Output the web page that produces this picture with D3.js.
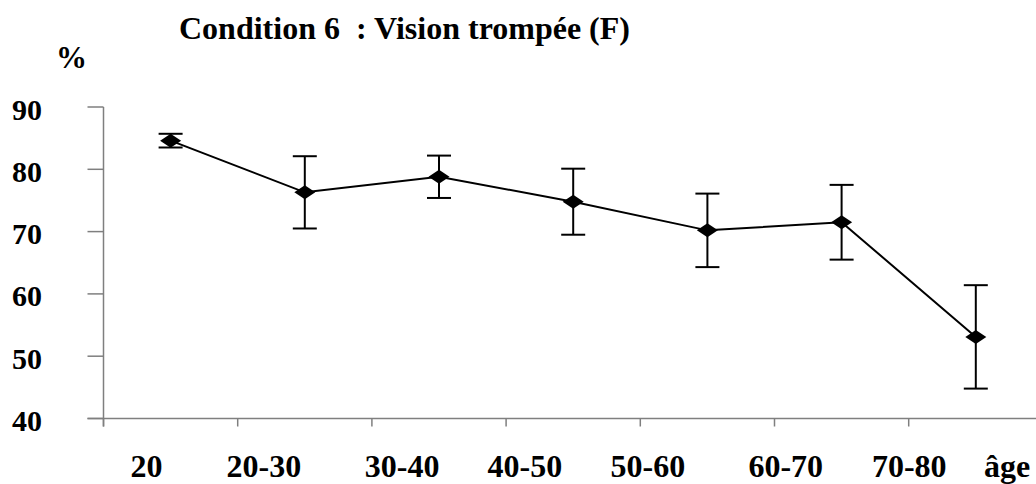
<!DOCTYPE html>
<html>
<head>
<meta charset="utf-8">
<style>
  html, body { margin: 0; padding: 0; background: #fff; }
  svg text { font-family: "Liberation Serif", "Times New Roman", serif; font-weight: bold; fill: #000; }
</style>
</head>
<body>
<div id="chart"></div>
<script src="https://cdn.jsdelivr.net/npm/d3@7"></script>
<script>
  // groupes d'âge et moyennes (%) avec écart (barres d'erreur)
  const categories = ["20", "20-30", "30-40", "40-50", "50-60", "60-70", "70-80"];
  const means = [84.6, 76.3, 78.8, 74.8, 70.2, 71.5, 53.1];
  const errors = [1.1, 5.8, 3.4, 5.3, 5.9, 6.0, 8.3];
  const yTicks = [40, 50, 60, 70, 80, 90];
  // labels under the axis, positioned in category units as in the original
  const xLabels = ["20", "20-30", "30-40", "40-50", "50-60", "60-70", "70-80", "âge"];
  const xLabelAt = [0.32, 1.195, 2.225, 3.14, 4.057, 5.084, 6.004, 6.733];

  const width = 1036;
  const height = 484;

  const svg = d3
    .select("#chart")
    .append("svg")
    .attr("width", width)
    .attr("height", height);

  const x = d3.scaleLinear().domain([0, categories.length]).range([103.5, 103.5 + 7 * 134.2]);
  const y = d3.scaleLinear().domain([40, 90]).range([418.5, 107]);

  const axisColor = "#7f7f7f";

  // axe des y
  svg
    .append("line")
    .attr("x1", x(0)).attr("x2", x(0))
    .attr("y1", y(90)).attr("y2", y(40) + 8)
    .attr("stroke", axisColor)
    .attr("stroke-width", 1.5);

  svg
    .append("g")
    .selectAll("line")
    .data(yTicks)
    .enter()
    .append("line")
    .attr("x1", x(0) - 16).attr("x2", x(0))
    .attr("y1", (d) => y(d)).attr("y2", (d) => y(d))
    .attr("stroke", axisColor)
    .attr("stroke-width", 1.5);

  svg
    .append("g")
    .selectAll("text")
    .data(yTicks)
    .enter()
    .append("text")
    .attr("x", 42)
    .attr("y", (d) => y(d) + 12.5)
    .attr("text-anchor", "end")
    .style("font-size", "30px")
    .text((d) => d);

  // axe des x
  svg
    .append("line")
    .attr("x1", x(0) - 16).attr("x2", width)
    .attr("y1", y(40)).attr("y2", y(40))
    .attr("stroke", axisColor)
    .attr("stroke-width", 1.5);

  svg
    .append("g")
    .selectAll("line")
    .data(d3.range(categories.length))
    .enter()
    .append("line")
    .attr("x1", (d) => x(d)).attr("x2", (d) => x(d))
    .attr("y1", y(40)).attr("y2", y(40) + 8)
    .attr("stroke", axisColor)
    .attr("stroke-width", 1.5);

  svg
    .append("g")
    .selectAll("text")
    .data(xLabels)
    .enter()
    .append("text")
    .attr("x", (d, i) => x(xLabelAt[i]))
    .attr("y", 477)
    .attr("text-anchor", "middle")
    .style("font-size", "32px")
    .text((d) => d);

  // titre et unité
  svg
    .append("text")
    .attr("x", 179)
    .attr("y", 39)
    .style("font-size", "32px")
    .style("white-space", "pre")
    .text("Condition 6  : Vision trompée (F)");

  svg
    .append("text")
    .attr("x", 56)
    .attr("y", 68)
    .style("font-size", "31px")
    .text("%");

  const cx = (i) => x(i + 0.5);

  // courbe
  const line = d3
    .line()
    .x((d, i) => cx(i))
    .y((d) => y(d));

  svg
    .append("path")
    .datum(means)
    .attr("d", line)
    .attr("fill", "none")
    .attr("stroke", "#000")
    .attr("stroke-width", 2);

  // barres d'erreur
  const bars = svg
    .append("g")
    .selectAll("g")
    .data(means)
    .enter()
    .append("g")
    .attr("stroke", "#000")
    .attr("stroke-width", 2);

  bars
    .append("line")
    .attr("x1", (d, i) => cx(i)).attr("x2", (d, i) => cx(i))
    .attr("y1", (d, i) => y(d + errors[i]))
    .attr("y2", (d, i) => y(d - errors[i]));

  bars
    .append("line")
    .attr("x1", (d, i) => cx(i) - 12).attr("x2", (d, i) => cx(i) + 12)
    .attr("y1", (d, i) => y(d + errors[i]))
    .attr("y2", (d, i) => y(d + errors[i]));

  bars
    .append("line")
    .attr("x1", (d, i) => cx(i) - 12).attr("x2", (d, i) => cx(i) + 12)
    .attr("y1", (d, i) => y(d - errors[i]))
    .attr("y2", (d, i) => y(d - errors[i]));

  // losanges
  svg
    .append("g")
    .selectAll("path")
    .data(means)
    .enter()
    .append("path")
    .attr("d", "M-10.5,0L0,-7L10.5,0L0,7Z")
    .attr("transform", (d, i) => `translate(${cx(i)},${y(d)})`)
    .attr("fill", "#000");
</script>
</body>
</html>
